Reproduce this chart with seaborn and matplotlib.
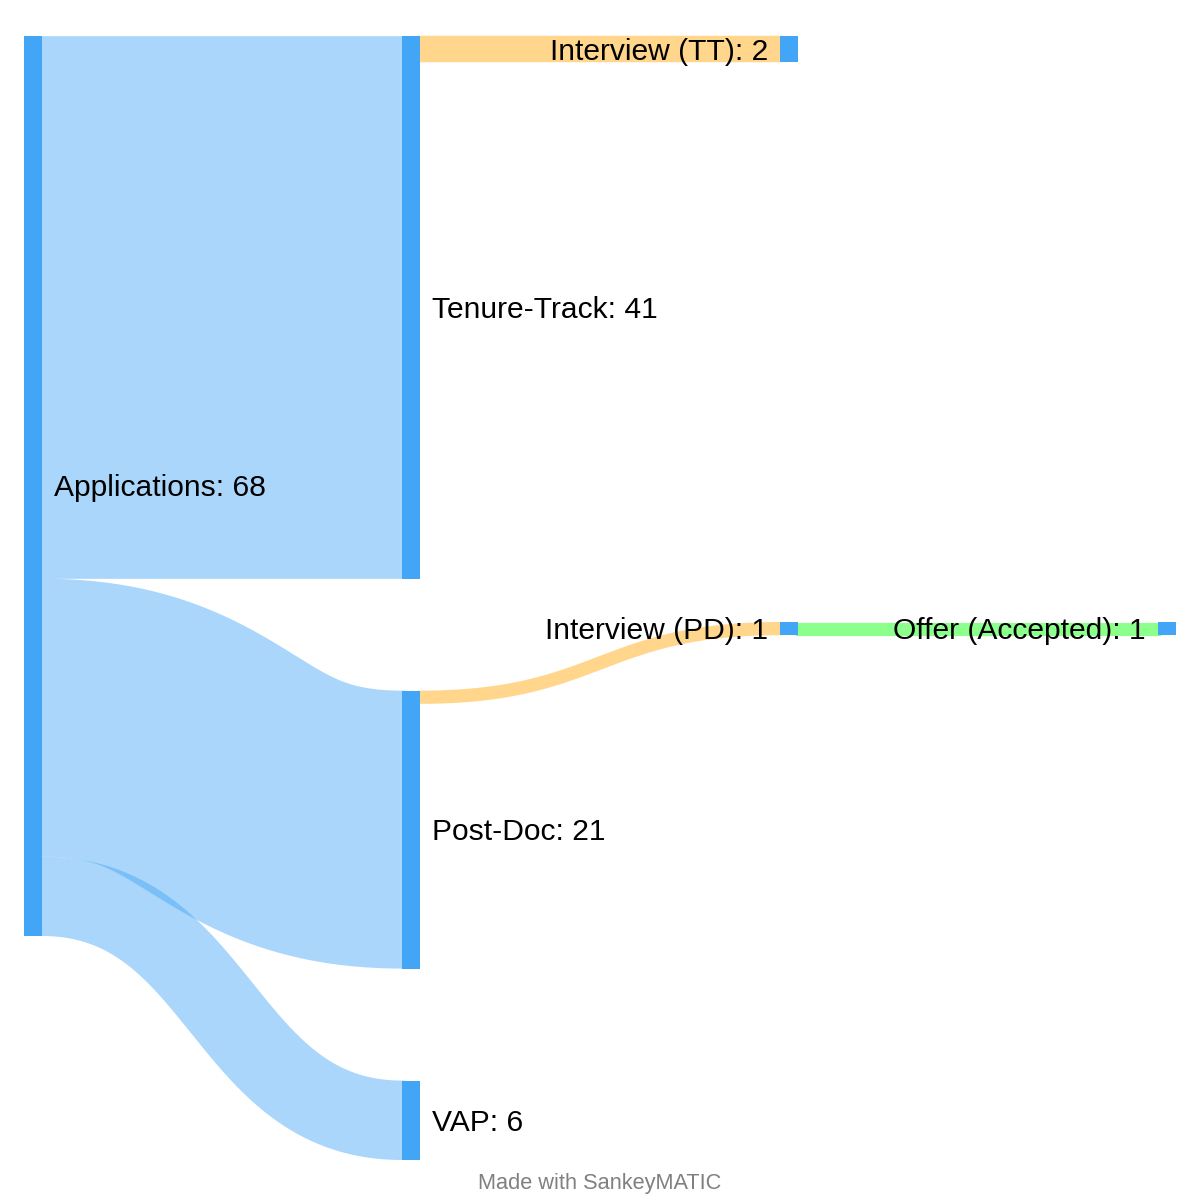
import numpy as np
import matplotlib
matplotlib.use("Agg")
import matplotlib.pyplot as plt
import seaborn as sns

# data
node_names = ["Applications", "Tenure-Track", "Post-Doc", "VAP",
              "Interview (TT)", "Interview (PD)", "Offer (Accepted)"]
node_columns = [0, 1, 1, 1, 2, 2, 3]

flow_sources = ["Applications", "Applications", "Applications",
                "Tenure-Track", "Post-Doc", "Interview (PD)"]
flow_targets = ["Tenure-Track", "Post-Doc", "VAP",
                "Interview (TT)", "Interview (PD)", "Offer (Accepted)"]
flow_values = [41, 21, 6, 2, 1, 1]
flow_colors = ["#42a5f5", "#42a5f5", "#42a5f5", "#ffa500", "#ffa500", "#00ff00"]

# layout (pixels)
left, top, bottom = 24, 36, 1160
col_step = 378
node_w = 18
node_gap = 112
label_pad = 12
font_px = 30
# nodes pulled away from plain stacking by the layout relaxation
top_override = {"Interview (PD)": 622, "Offer (Accepted)": 622}

sns.set_style("white")
plt.rcParams["font.family"] = ["Liberation Sans", "DejaVu Sans"]

# node values = max(in, out)
val_in = {n: 0 for n in node_names}
val_out = {n: 0 for n in node_names}
for s, t, v in zip(flow_sources, flow_targets, flow_values):
    val_out[s] += v
    val_in[t] += v
node_val = {n: max(val_in[n], val_out[n]) for n in node_names}

# scale from the fullest column
cols = sorted(set(node_columns))
scale = None
for c in cols:
    members = [n for n, cc in zip(node_names, node_columns) if cc == c]
    total = sum(node_val[n] for n in members)
    s = (bottom - top - node_gap * (len(members) - 1)) / total
    scale = s if scale is None else min(scale, s)

node_x = {}
node_y = {}
for c in cols:
    y = top
    for n, cc in zip(node_names, node_columns):
        if cc != c:
            continue
        node_x[n] = left + c * col_step
        node_y[n] = top_override.get(n, y)
        y = node_y[n] + node_val[n] * scale + node_gap

fig = plt.figure(figsize=(12, 12), dpi=100)
ax = fig.add_axes([0, 0, 1, 1])
ax.set_xlim(0, 1200)
ax.set_ylim(1200, 0)
ax.axis("off")

# flow offsets, ordered by the other end's position
out_off = {n: node_y[n] for n in node_names}
in_off = {n: node_y[n] for n in node_names}
src_pos = {}
for i in sorted(range(len(flow_values)), key=lambda i: node_y[flow_targets[i]]):
    s = flow_sources[i]
    src_pos[i] = out_off[s]
    out_off[s] += flow_values[i] * scale
tgt_pos = {}
for i in sorted(range(len(flow_values)), key=lambda i: node_y[flow_sources[i]]):
    g = flow_targets[i]
    tgt_pos[i] = in_off[g]
    in_off[g] += flow_values[i] * scale

# links drawn as thick bezier strokes, like d3-sankey
t = np.linspace(0, 1, 200)
b0 = (1 - t) ** 3 + 3 * (1 - t) ** 2 * t
b1 = 1 - b0
for i in range(len(flow_values)):
    s, g = flow_sources[i], flow_targets[i]
    x0 = node_x[s] + node_w
    x1 = node_x[g]
    xm = (x0 + x1) / 2
    xs = (1 - t) ** 3 * x0 + 3 * (1 - t) ** 2 * t * xm + 3 * (1 - t) * t ** 2 * xm + t ** 3 * x1
    h = flow_values[i] * scale
    yc = b0 * (src_pos[i] + h / 2) + b1 * (tgt_pos[i] + h / 2)
    # tuck the ends a little under the nodes so no hairline gap shows
    xs = np.concatenate([[x0 - 3], xs, [x1 + 3]])
    yc = np.concatenate([[yc[0]], yc, [yc[-1]]])
    ax.plot(xs, yc, color=flow_colors[i], alpha=0.45, linewidth=h * 0.72,
            solid_capstyle="butt", zorder=1)

for n in node_names:
    h = node_val[n] * scale
    ax.add_patch(plt.Rectangle((node_x[n], node_y[n]), node_w, h,
                               color="#42a5f5", linewidth=0, zorder=2))
    yb = node_y[n] + h / 2 + 0.35 * font_px
    label = f"{n}: {node_val[n]}"
    if node_x[n] < 600:
        ax.text(node_x[n] + node_w + label_pad, yb, label, ha="left",
                va="baseline", fontsize=font_px * 0.72, color="black", zorder=3)
    else:
        ax.text(node_x[n] - label_pad, yb, label, ha="right",
                va="baseline", fontsize=font_px * 0.72, color="black", zorder=3)

ax.text(600, 1189, "Made with SankeyMATIC", ha="center", va="baseline",
        fontsize=15.7, color="#808080")

fig.savefig("out.png", dpi=100)
